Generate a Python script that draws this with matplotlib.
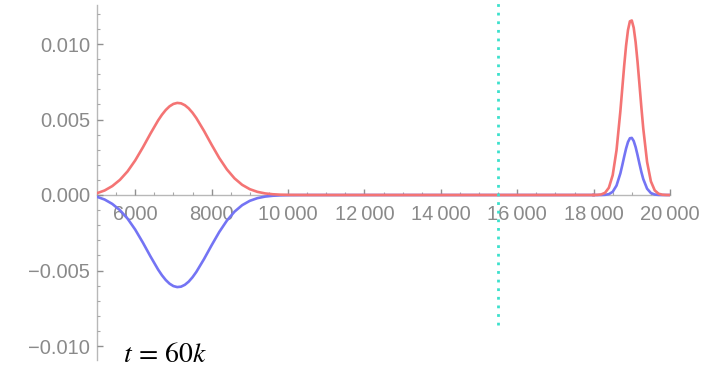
import matplotlib
matplotlib.use("Agg")
import matplotlib.pyplot as plt
from matplotlib.ticker import FixedLocator, MultipleLocator

# ---- data ----
x_left = [5000, 5200, 5400, 5600, 5800, 6000, 6200, 6400, 6600, 6700, 6800, 6900,
          7000, 7100, 7200, 7300, 7400, 7500, 7600, 7800, 8000, 8200, 8400, 8600,
          8800, 9000, 9200, 9400, 9600, 9800, 10000, 10500, 18000]
red_left = [0.000120, 0.000300, 0.000590, 0.001003, 0.001564, 0.002290, 0.003149,
            0.004069, 0.004939, 0.005315, 0.005631, 0.005874, 0.006032, 0.006098,
            0.006070, 0.005947, 0.005738, 0.005449, 0.005095, 0.004250, 0.003331,
            0.002452, 0.001696, 0.001102, 0.000673, 0.000386, 0.000208, 0.000105,
            0.000050, 0.000022, 0.000009, 0.0, 0.0]
blue_left = [-0.000120, -0.000300, -0.000590, -0.001003, -0.001564, -0.002290, -0.003149,
             -0.004069, -0.004939, -0.005315, -0.005631, -0.005874, -0.006032, -0.006098,
             -0.006070, -0.005947, -0.005738, -0.005449, -0.005095, -0.004250, -0.003331,
             -0.002452, -0.001696, -0.001102, -0.000673, -0.000386, -0.000208, -0.000105,
             -0.000050, -0.000022, -0.000009, 0.0, 0.0]

x_right = [18000, 18100, 18200, 18300, 18400, 18500, 18600, 18700, 18750, 18800, 18850,
           18900, 18950, 19000, 19050, 19100, 19150, 19200, 19250, 19300, 19400, 19500,
           19600, 19700, 19800, 19900, 20000]
red_right = [0.0000013, 0.0000077, 0.0000369, 0.000147, 0.000483, 0.001314, 0.002963,
             0.005529, 0.007036, 0.008541, 0.009888, 0.010919, 0.011501, 0.011556,
             0.011076, 0.010124, 0.008828, 0.007342, 0.005823, 0.004407, 0.002190,
             0.000900, 0.000307, 0.000086, 0.000020, 0.0000039, 0.0]
blue_right = [0.0, 0.0, 0.0, 0.0000117, 0.0000567, 0.000213, 0.000625, 0.001426,
              0.001962, 0.002535, 0.003076, 0.003508, 0.003757, 0.003781, 0.003574,
              0.003174, 0.002648, 0.002075, 0.001528, 0.001056, 0.000419, 0.000129,
              0.0000311, 0.0000058, 0.0, 0.0, 0.0]

marker_x = 15500
x_ticks = [6000, 8000, 10000, 12000, 14000, 16000, 18000, 20000]
x_tick_labels = ["6000", "8000", "10\u2009000", "12\u2009000", "14\u2009000",
                 "16\u2009000", "18\u2009000", "20\u2009000"]
y_ticks = [-0.010, -0.005, 0.0, 0.005, 0.010]
y_tick_labels = ["\u22120.010", "\u22120.005", "0.000", "0.005", "0.010"]
annotation = r"$t\,=\,60k$"

# ---- styling ----
RED = "#f47474"
BLUE = "#7474f4"
CYAN = "#3de0cc"
AXIS = "#b8b8b8"
LABEL = "#8a8a8a"

plt.rcParams["font.family"] = ["Liberation Sans", "DejaVu Sans"]
plt.rcParams["mathtext.fontset"] = "stix"

fig = plt.figure(figsize=(7.19, 3.68), dpi=100)
ax = fig.add_axes([97 / 719, 1 - 360 / 368, (670 - 97) / 719, 355 / 368])

ax.plot(x_left, blue_left, color=BLUE, lw=1.9, zorder=3)
ax.plot(x_right, blue_right, color=BLUE, lw=1.9, zorder=3)
ax.plot(x_left, red_left, color=RED, lw=1.9, zorder=3)
ax.plot(x_right, red_right, color=RED, lw=1.9, zorder=3)

ax.set_xlim(5000, 20000)
ax.set_ylim(-(360 - 195) / 15100, (195 - 5) / 15100)

ax.axvline(marker_x, ymin=(360 - 325) / 355, ymax=1.015, color=CYAN, lw=2.0,
           linestyle=(0, (1, 2.1)), clip_on=False, zorder=4)

for s in ["top", "right"]:
    ax.spines[s].set_visible(False)
ax.spines["bottom"].set_position(("data", 0))
ax.spines["left"].set_position(("data", 5000))
for s in ["bottom", "left"]:
    ax.spines[s].set_color(AXIS)
    ax.spines[s].set_linewidth(1.0)
    ax.spines[s].set_zorder(1)

ax.xaxis.set_major_locator(FixedLocator(x_ticks))
ax.set_xticklabels(x_tick_labels)
ax.xaxis.set_minor_locator(MultipleLocator(500))
ax.yaxis.set_major_locator(FixedLocator(y_ticks))
ax.set_yticklabels(y_tick_labels)
ax.yaxis.set_minor_locator(MultipleLocator(0.001))

ax.tick_params(axis="both", which="major", direction="in", length=4, width=1,
               color="#909090", labelcolor=LABEL, labelsize=14.5)
ax.tick_params(axis="both", which="minor", direction="in", length=2.5, width=0.8,
               color="#a8a8a8")
ax.tick_params(axis="x", which="major", pad=7)
ax.tick_params(axis="y", which="major", pad=5)

fig.text(123 / 719, 1 - 362 / 368, annotation, fontsize=20, ha="left", va="baseline",
         color="black")

fig.savefig("out.png", dpi=100, facecolor="white")
